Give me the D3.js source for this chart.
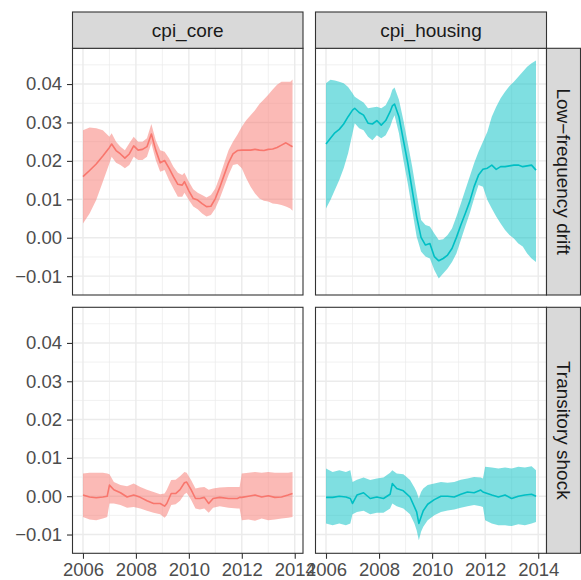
<!DOCTYPE html>
<html>
<head>
<meta charset="utf-8">
<style>
body { margin: 0; background: #fff; }
text { font-family: "Liberation Sans", Arial, sans-serif; }
</style>
</head>
<body>
<script src="https://d3js.org/d3.v7.min.js"></script>
<script>
// facet labels and colours
var series = ["cpi_core", "cpi_housing"];
var components = ["Low\u2212frequency drift", "Transitory shock"];
var seriesColors = ["#F8766D", "#00BFC4"];

// axis breaks
var xTicks = [2006, 2008, 2010, 2012, 2014];
var xMinor = [2007, 2009, 2011, 2013];
var yTicks = [-0.01, 0, 0.01, 0.02, 0.03, 0.04];
var yMinor = [-0.005, 0.005, 0.015, 0.025, 0.035, 0.045];
var yDomain = [-0.0149, 0.0493];

// cpi_core, low-frequency drift (months since Jan 2006, median, lower, upper)
var coreDriftMonths = [0,3,6,9,12,13,15,17,19,21,23,25,27,29,31,33,35,37,39,41,43,45,46,48,50,52,54,56,58,60,62,64,66,68,70,72,74,76,78,80,82,84,86,88,90,92,94,95];
var coreDriftMid = [.0159,.0175,.0192,.0213,.0235,.0244,.0227,.0218,.0207,.0218,.0239,.0228,.0230,.0237,.0270,.0228,.0195,.0201,.0181,.0159,.0139,.0137,.0146,.0122,.0102,.0098,.0089,.0081,.0082,.0102,.0131,.0163,.0195,.0218,.0227,.0228,.0228,.0228,.0230,.0228,.0227,.0230,.0231,.0235,.0241,.0247,.0240,.0237];
var coreDriftLo = [.0037,.0063,.0098,.0146,.0194,.0211,.0195,.0189,.0181,.0189,.0211,.0202,.0202,.0211,.0246,.0202,.0172,.0176,.0150,.0128,.0107,.0107,.0117,.0098,.0081,.0074,.0063,.0055,.0059,.0076,.0102,.0133,.0163,.0189,.0192,.0181,.0155,.0133,.0115,.0102,.0096,.0094,.0089,.0088,.0085,.0081,.0076,.0070];
var coreDriftHi = [.0280,.0287,.0285,.0280,.0263,.0272,.0250,.0237,.0228,.0246,.0263,.0250,.0250,.0259,.0296,.0254,.0228,.0224,.0207,.0185,.0169,.0163,.0169,.0146,.0126,.0117,.0111,.0105,.0111,.0128,.0159,.0194,.0228,.0250,.0268,.0289,.0306,.0319,.0332,.0348,.0360,.0372,.0386,.0398,.0406,.0406,.0406,.0412];

// cpi_housing, low-frequency drift
var housingDriftMonths = [0,2,4,6,8,10,12,13,15,17,19,21,23,25,27,29,30,31,33,35,37,39,41,43,45,47,49,51,53,55,57,59,61,63,65,67,69,71,73,75,77,79,81,83,85,87,89,91,93,95];
var housingDriftMid = [.0244,.0259,.0273,.0282,.0296,.0315,.0332,.0337,.0326,.0319,.0298,.0296,.0305,.0293,.0305,.0328,.0343,.0348,.0315,.0254,.0194,.0124,.0055,.0001,-.0019,-.0015,-.0049,-.0060,-.0054,-.0045,-.0028,.0001,.0033,.0063,.0094,.0133,.0163,.0178,.0181,.0189,.0178,.0185,.0185,.0187,.0189,.0189,.0185,.0187,.0189,.0176];
var housingDriftLo = [.0076,.0098,.0124,.0150,.0181,.0220,.0272,.0298,.0285,.0280,.0263,.0254,.0267,.0259,.0267,.0289,.0306,.0319,.0272,.0202,.0141,.0072,.0003,-.0036,-.0049,-.0054,-.0084,-.0106,-.0093,-.0080,-.0063,-.0041,-.0006,.0029,.0063,.0102,.0137,.0133,.0098,.0076,.0055,.0037,.0020,.0007,-.0002,-.0015,-.0023,-.0041,-.0054,-.0063];
var housingDriftHi = [.0402,.0411,.0409,.0406,.0402,.0392,.0376,.0367,.0359,.0352,.0337,.0339,.0341,.0337,.0345,.0367,.0385,.0391,.0359,.0306,.0246,.0185,.0115,.0046,.0033,.0029,.0011,-.0006,-.0004,.0007,.0024,.0055,.0089,.0124,.0159,.0194,.0224,.0250,.0276,.0315,.0341,.0363,.0380,.0395,.0406,.0419,.0432,.0445,.0454,.0461];

// cpi_core, transitory shock
var coreShockMonths = [0,3,6,9,11,12,14,17,20,23,26,29,32,35,37,38,40,42,44,46,47,49,51,53,55,57,59,62,66,70,71,72,75,78,81,84,87,90,93,95];
var coreShockMid = [.0003,-.0002,-.0004,-.0002,.0000,.0029,.0017,.0009,-.0002,.0003,-.0003,-.0012,-.0019,-.0019,-.0026,-.0019,.0007,.0007,.0017,.0035,.0037,.0017,-.0006,-.0006,-.0003,-.0019,-.0006,-.0003,-.0006,-.0006,-.0003,-.0003,.0000,.0003,-.0002,.0001,-.0003,-.0002,.0003,.0007];
var coreShockLo = [-.0054,-.0061,-.0063,-.0058,-.0054,-.0019,-.0019,-.0023,-.0030,-.0028,-.0032,-.0038,-.0043,-.0047,-.0056,-.0050,-.0023,-.0021,-.0012,.0005,.0009,-.0009,-.0032,-.0035,-.0032,-.0043,-.0030,-.0026,-.0030,-.0032,-.0032,-.0063,-.0061,-.0064,-.0058,-.0063,-.0061,-.0058,-.0056,-.0054];
var coreShockHi = [.0059,.0061,.0061,.0061,.0059,.0057,.0037,.0029,.0026,.0033,.0024,.0017,.0011,.0005,.0007,.0017,.0042,.0043,.0052,.0063,.0061,.0042,.0020,.0023,.0024,.0017,.0020,.0023,.0024,.0024,.0024,.0059,.0061,.0063,.0061,.0063,.0061,.0061,.0061,.0063];

// cpi_housing, transitory shock
var housingShockMonths = [0,3,6,9,11,12,14,17,20,23,26,29,30,32,35,38,40,41,42,43,44,46,49,52,55,58,61,64,67,70,71,72,75,78,81,84,87,90,93,95];
var housingShockMid = [-.0003,-.0003,.0000,-.0002,-.0006,-.0019,.0003,.0009,-.0006,-.0002,-.0006,.0005,.0033,.0020,.0014,-.0002,-.0028,-.0041,-.0071,-.0054,-.0038,-.0021,-.0009,.0000,.0000,-.0002,.0005,.0011,.0009,.0016,.0011,.0009,.0003,-.0002,.0003,-.0006,.0000,.0003,.0005,.0000];
var housingShockLo = [-.0071,-.0076,-.0071,-.0076,-.0071,-.0047,-.0041,-.0038,-.0047,-.0043,-.0043,-.0032,-.0019,-.0026,-.0032,-.0047,-.0071,-.0089,-.0115,-.0093,-.0080,-.0063,-.0050,-.0041,-.0037,-.0035,-.0030,-.0026,-.0023,-.0026,-.0028,-.0063,-.0071,-.0076,-.0076,-.0078,-.0073,-.0076,-.0071,-.0067];
var housingShockHi = [.0072,.0063,.0068,.0063,.0068,.0037,.0043,.0049,.0042,.0046,.0049,.0061,.0068,.0059,.0057,.0042,.0023,.0011,-.0006,.0011,.0020,.0029,.0033,.0037,.0035,.0037,.0043,.0046,.0050,.0049,.0046,.0077,.0075,.0072,.0075,.0072,.0077,.0075,.0078,.0068];

var panels = [
    { col: 0, row: 0, months: coreDriftMonths, mid: coreDriftMid, lo: coreDriftLo, hi: coreDriftHi },
    { col: 1, row: 0, months: housingDriftMonths, mid: housingDriftMid, lo: housingDriftLo, hi: housingDriftHi },
    { col: 0, row: 1, months: coreShockMonths, mid: coreShockMid, lo: coreShockLo, hi: coreShockHi },
    { col: 1, row: 1, months: housingShockMonths, mid: housingShockMid, lo: housingShockLo, hi: housingShockHi }
];

// layout of the facet grid
var width = 581, height = 580;
var colX = [[72.5, 303], [315.5, 546.5]];
var rowY = [[48.3, 295], [307.3, 553.3]];
var stripTop = 12, stripRight = 580.5;
var border = "#333333";

function toYear(m) { return 2006 + m / 12; }

// x domain with the usual 5% padding
var xMin = toYear(0), xMax = toYear(95);
var xPad = (xMax - xMin) * 0.05;
var xScales = colX.map(function (r) { return d3.scaleLinear().domain([xMin - xPad, xMax + xPad]).range(r); });
var yScales = rowY.map(function (r) { return d3.scaleLinear().domain(yDomain).range([r[1], r[0]]); });

var svg = d3.select("body").append("svg")
    .attr("width", width)
    .attr("height", height);

svg.append("rect").attr("width", width).attr("height", height).attr("fill", "#fff");

panels.forEach(function (p) {
    var x = xScales[p.col], y = yScales[p.row];
    var x0 = colX[p.col][0], x1 = colX[p.col][1];
    var y0 = rowY[p.row][0], y1 = rowY[p.row][1];
    var g = svg.append("g");

    // grid
    g.selectAll(".xminor").data(xMinor).enter().append("line")
        .attr("x1", x).attr("x2", x).attr("y1", y0).attr("y2", y1)
        .attr("stroke", "#EBEBEB").attr("stroke-width", 0.7);
    g.selectAll(".yminor").data(yMinor).enter().append("line")
        .attr("x1", x0).attr("x2", x1).attr("y1", y).attr("y2", y)
        .attr("stroke", "#EBEBEB").attr("stroke-width", 0.7);
    g.selectAll(".xmajor").data(xTicks).enter().append("line")
        .attr("x1", x).attr("x2", x).attr("y1", y0).attr("y2", y1)
        .attr("stroke", "#EBEBEB").attr("stroke-width", 1.4);
    g.selectAll(".ymajor").data(yTicks).enter().append("line")
        .attr("x1", x0).attr("x2", x1).attr("y1", y).attr("y2", y)
        .attr("stroke", "#EBEBEB").attr("stroke-width", 1.4);

    var pts = p.months.map(function (m, i) {
        return { t: toYear(m), mid: p.mid[i], lo: p.lo[i], hi: p.hi[i] };
    });

    var band = d3.area()
        .x(function (d) { return x(d.t); })
        .y0(function (d) { return y(d.lo); })
        .y1(function (d) { return y(d.hi); });
    var line = d3.line()
        .x(function (d) { return x(d.t); })
        .y(function (d) { return y(d.mid); });

    g.append("path").attr("d", band(pts))
        .attr("fill", seriesColors[p.col]).attr("fill-opacity", 0.5);
    g.append("path").attr("d", line(pts))
        .attr("fill", "none").attr("stroke", seriesColors[p.col])
        .attr("stroke-width", 1.6).attr("stroke-linejoin", "round");

    g.append("rect")
        .attr("x", x0).attr("y", y0).attr("width", x1 - x0).attr("height", y1 - y0)
        .attr("fill", "none").attr("stroke", border).attr("stroke-width", 1.1);
});

// column strips
series.forEach(function (s, c) {
    svg.append("rect")
        .attr("x", colX[c][0]).attr("y", stripTop)
        .attr("width", colX[c][1] - colX[c][0]).attr("height", rowY[0][0] - stripTop)
        .attr("fill", "#D9D9D9").attr("stroke", border).attr("stroke-width", 1.1);
    svg.append("text")
        .attr("x", (colX[c][0] + colX[c][1]) / 2)
        .attr("y", (stripTop + rowY[0][0]) / 2)
        .attr("dy", "0.35em")
        .attr("text-anchor", "middle")
        .attr("fill", "#1A1A1A")
        .style("font-size", "19px")
        .text(s);
});

// row strips
components.forEach(function (s, r) {
    var xr = colX[1][1];
    svg.append("rect")
        .attr("x", xr).attr("y", rowY[r][0])
        .attr("width", stripRight - xr).attr("height", rowY[r][1] - rowY[r][0])
        .attr("fill", "#D9D9D9").attr("stroke", border).attr("stroke-width", 1.1);
    svg.append("text")
        .attr("transform", "translate(" + ((xr + stripRight) / 2) + "," + ((rowY[r][0] + rowY[r][1]) / 2) + ") rotate(90)")
        .attr("dy", "0.35em")
        .attr("text-anchor", "middle")
        .attr("fill", "#1A1A1A")
        .style("font-size", "19px")
        .text(s);
});

function styleAxis(a) {
    a.attr("font-size", null).attr("font-family", null);
    a.select(".domain").remove();
    a.selectAll("line").attr("stroke", border).attr("stroke-width", 1.1);
    a.selectAll("text").attr("fill", "#4D4D4D").style("font-size", "18.5px");
}

// y axes on the left column
yScales.forEach(function (y, r) {
    svg.append("g")
        .attr("transform", "translate(" + colX[0][0] + ",0)")
        .call(d3.axisLeft(y).tickValues(yTicks).tickFormat(d3.format(".2f")).tickSize(5.5).tickPadding(5))
        .call(styleAxis);
});

// x axes under the bottom row
xScales.forEach(function (x, c) {
    svg.append("g")
        .attr("transform", "translate(0," + rowY[1][1] + ")")
        .call(d3.axisBottom(x).tickValues(xTicks).tickFormat(d3.format("d")).tickSize(5.5).tickPadding(4.5))
        .call(styleAxis);
});
</script>
</body>
</html>
